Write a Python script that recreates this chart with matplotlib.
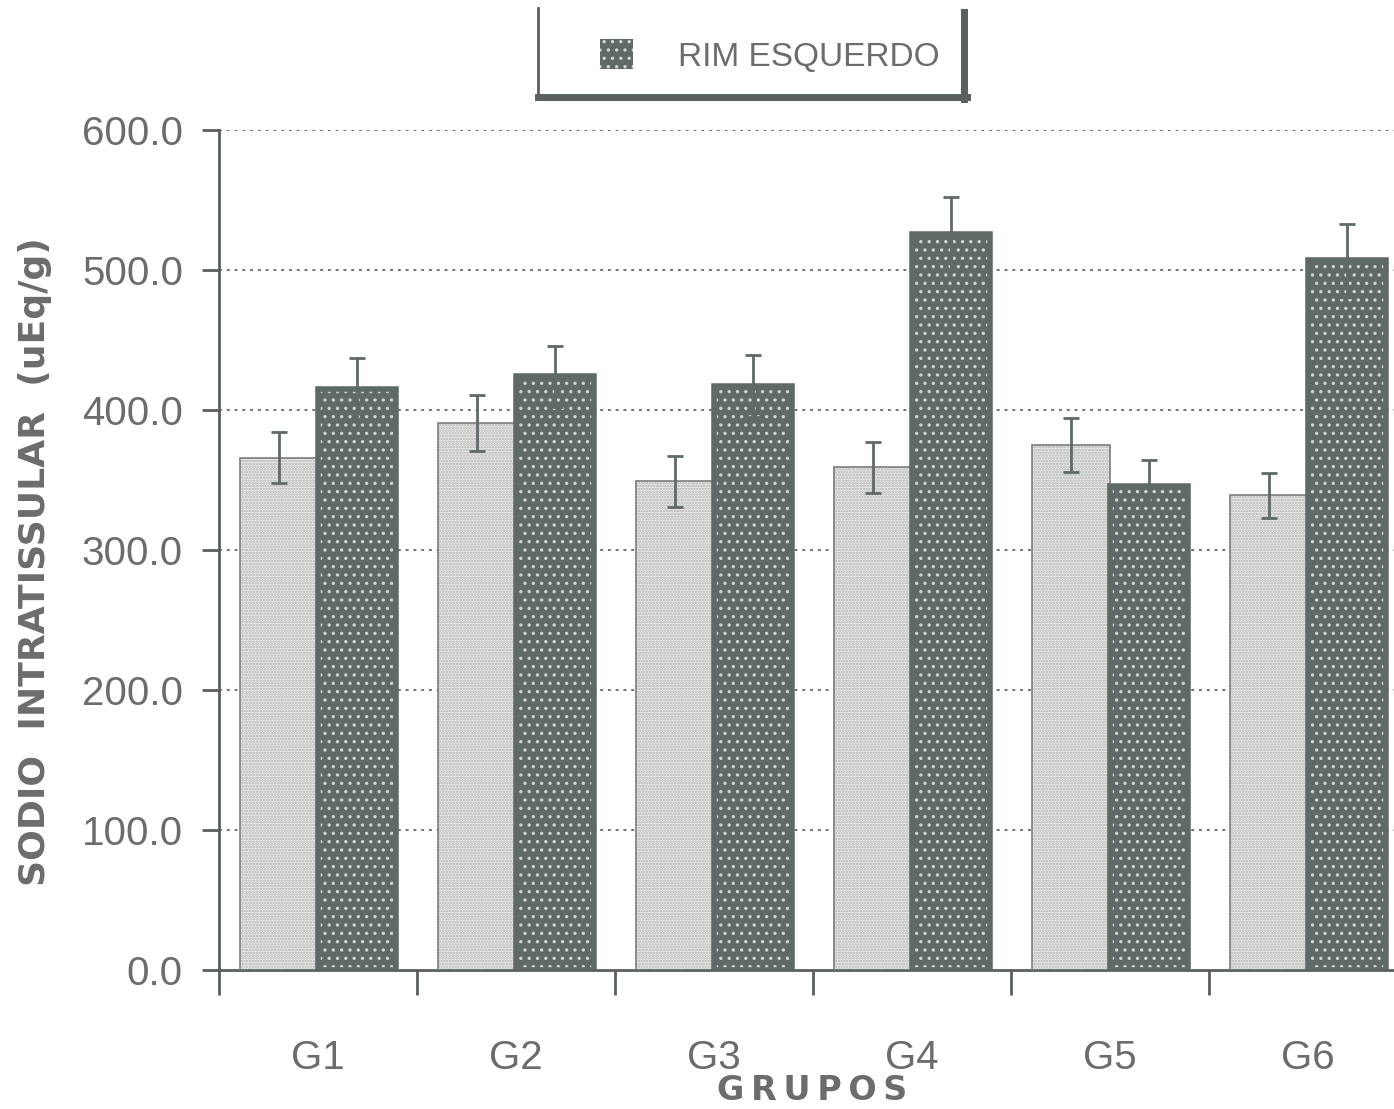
import matplotlib
matplotlib.use("Agg")
import matplotlib.pyplot as plt
from matplotlib.lines import Line2D
from matplotlib.patches import Patch
import numpy as np

# Intratissular sodium (uEq/g) per group
groups = ["G1", "G2", "G3", "G4", "G5", "G6"]
rim_direito = [366, 391, 349, 359, 375, 339]
rim_direito_err = [18, 20, 18, 18, 19, 16]
rim_esquerdo = [415, 424, 417, 526, 346, 507]
rim_esquerdo_err = [22, 22, 22, 26, 18, 26]
y_ticks = [0, 100, 200, 300, 400, 500, 600]

TXT = "#6a6d6c"
DARK = "#5f6a68"
LIGHT = "#ececea"

plt.rcParams["font.family"] = ["Liberation Sans Narrow", "Liberation Sans", "DejaVu Sans"]
plt.rcParams["hatch.linewidth"] = 1.2

W, H = 1394, 1109
fig = plt.figure(figsize=(W / 100, H / 100), dpi=100)
ax = fig.add_axes([219 / W, (H - 970) / H, 1188 / W, 840 / H])

x = np.arange(len(groups))
bw = 0.394

# grid behind the bars
for v in y_ticks[1:]:
    ax.axhline(v, color="#6f7472", lw=1.4, ls=(0, (1.5, 2.5)), zorder=0)

# light series: stippled fill
ax.bar(x + 0.5 - bw, rim_direito, bw, align="edge", color=LIGHT,
       hatch="......", edgecolor="#b0b2b0", linewidth=0, zorder=2)
ax.bar(x + 0.5 - bw, rim_direito, bw, align="edge", fill=False,
       edgecolor="#7a7e7d", linewidth=1.2, zorder=3)

# dark series: speckled fill
ax.bar(x + 0.5, rim_esquerdo, bw, align="edge", color=DARK,
       hatch="..", edgecolor="#d0d4d2", linewidth=0, zorder=2)
ax.bar(x + 0.5, rim_esquerdo, bw, align="edge", fill=False,
       edgecolor=DARK, linewidth=4, zorder=3)

ax.errorbar(x + 0.5 - bw / 2, rim_direito, yerr=rim_direito_err, fmt="none",
            ecolor=DARK, elinewidth=2, capsize=6, capthick=2, zorder=4)
ax.errorbar(x + 0.5 + bw / 2, rim_esquerdo, yerr=rim_esquerdo_err, fmt="none",
            ecolor=DARK, elinewidth=2, capsize=6, capthick=2, zorder=4)

ax.set_xlim(0, len(groups))
ax.set_ylim(0, 600)

for s in ("top", "right"):
    ax.spines[s].set_visible(False)
for s in ("left", "bottom"):
    ax.spines[s].set_color("#5a605e")
    ax.spines[s].set_linewidth(2)

ax.set_yticks(y_ticks)
ax.set_yticklabels([f"{v:.1f}" for v in y_ticks], fontsize=29, color=TXT)
ax.tick_params(axis="y", direction="out", length=12, width=2, color="#5a605e", pad=14)

ax.set_xticks(np.arange(len(groups) + 1))
ax.set_xticklabels([])
ax.tick_params(axis="x", which="major", direction="out", length=18, width=2, color="#5a605e")
ax.set_xticks(x + 0.5, minor=True)
ax.set_xticklabels(groups, minor=True, fontsize=29, color=TXT)
ax.tick_params(axis="x", which="minor", length=0, pad=50)

ax.set_ylabel("SODIO  INTRATISSULAR  (uEq/g)", fontsize=26, color=TXT,
              fontweight="bold", family=["DejaVu Sans"])
ax.yaxis.set_label_coords(-0.1406, 0.486)
fig.text(812 / W, 1 - 1090 / H, "G\u2009R\u2009U\u2009P\u2009O\u2009S", ha="center", va="center",
         fontsize=24, color=TXT, fontweight="bold", family=["DejaVu Sans"])

# legend box
leg = fig.legend(handles=[Patch(facecolor=DARK, hatch="..", edgecolor="#d0d4d2", linewidth=0)],
                 labels=["RIM ESQUERDO"], loc="center left", bbox_to_anchor=(570 / W, 1 - 56 / H),
                 frameon=False, fontsize=24, handlelength=1.0, handleheight=1.0,
                 handletextpad=1.35, labelcolor=TXT)
fig.add_artist(Line2D([538 / W, 538 / W], [1 - 8 / H, 1 - 97 / H], color="#5a605e", lw=2))
fig.add_artist(Line2D([538 / W, 967 / W], [1 - 97 / H, 1 - 97 / H], color="#5a605e", lw=5))
fig.add_artist(Line2D([964 / W, 964 / W], [1 - 12 / H, 1 - 99 / H], color="#5a605e", lw=5))

fig.savefig("out.png", dpi=100, facecolor="white")
